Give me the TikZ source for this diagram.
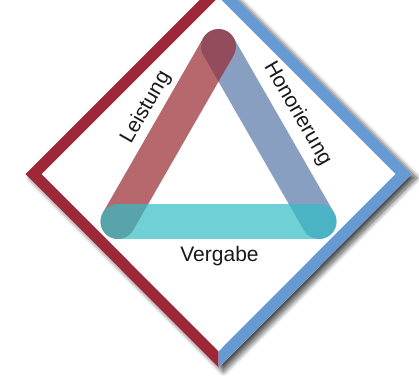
\documentclass[tikz,border=0pt]{standalone}
\usepackage{fontspec}
\setmainfont{Liberation Sans}
\usetikzlibrary{shadows.blur}

\definecolor{frameRed}{RGB}{158,40,56}
\definecolor{frameBlue}{RGB}{102,154,210}
\definecolor{barRed}{RGB}{152,41,48}
\definecolor{barBlue}{RGB}{88,119,169}
\definecolor{barCyan}{RGB}{50,190,198}
\definecolor{labelInk}{RGB}{25,25,25}

\tikzset{
  bar/.style={line width=35pt, line cap=round, opacity=0.7},
  label/.style={text=labelInk, font=\fontsize{21}{25}\selectfont, inner sep=0pt}
}

\begin{document}
\begin{tikzpicture}[x=1pt, y=-1pt]
  \useasboundingbox (0,0) rectangle (419,377);

  % white diamond with soft drop shadow
  \fill[white, blur shadow={shadow xshift=5pt, shadow yshift=-4pt,
        shadow blur radius=5pt, shadow blur steps=14, shadow opacity=70}]
    (218.5,-19) -- (25.5,174) -- (218.5,367.5) -- (411.5,174) -- cycle;

  % frame: left half red, right half blue
  \fill[frameRed]
    (218.5,-19) -- (25.5,174) -- (218.5,367.5) -- (218.5,351.5)
    -- (41.5,174) -- (218.5,-3) -- cycle;
  \fill[frameBlue]
    (218.5,-19) -- (411.5,174) -- (218.5,367.5) -- (218.5,351.5)
    -- (395.5,174) -- (218.5,-3) -- cycle;

  % triangle corners
  \coordinate (apex)  at (218.5,46.5);
  \coordinate (left)  at (118,221.5);
  \coordinate (right) at (319,221.5);

  % translucent sides of the triangle
  \draw[bar, barBlue] (apex) -- (right);
  \draw[bar, barRed]  (apex) -- (left);
  \draw[bar, barCyan] (left) -- (right);

  % labels
  \node[label, rotate=60]  (leistung)    at (146,107.5) {Leistung};
  \node[label, rotate=-60] (honorierung) at (297.5,113.5) {Honorierung};
  \node[label, anchor=base] (vergabe)    at (219.5,261) {Vergabe};
\end{tikzpicture}
\end{document}
